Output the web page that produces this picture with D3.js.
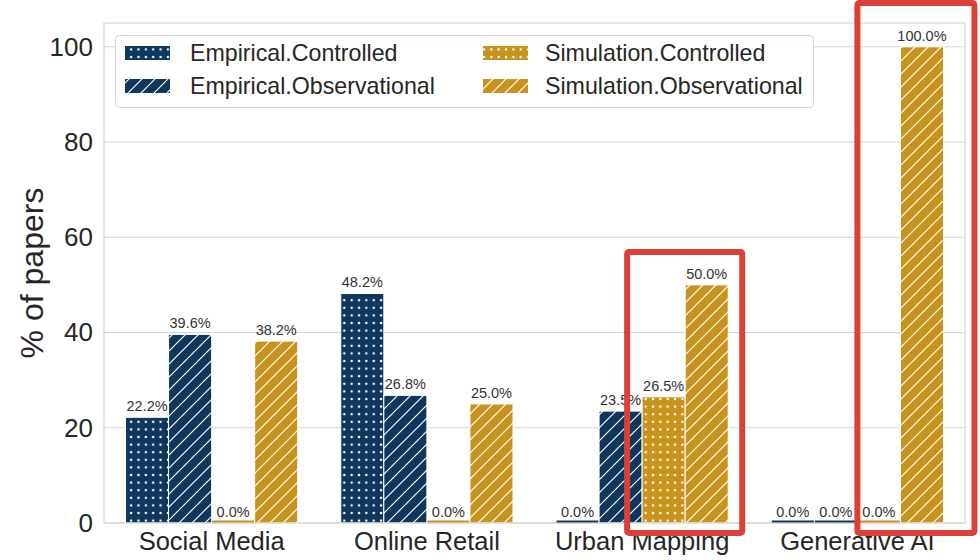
<!DOCTYPE html>
<html>
<head>
<meta charset="utf-8">
<script src="https://cdn.jsdelivr.net/npm/d3@7"></script>
<style>
  html, body { margin: 0; padding: 0; background: #fff; }
  svg { display: block; font-family: "Liberation Sans", Arial, Helvetica, sans-serif; }
</style>
</head>
<body>
<svg id="chart" width="980" height="560"></svg>
<script>
// ---- data ----
const categories = ["Social Media", "Online Retail", "Urban Mapping", "Generative AI"];
const seriesNames = ["Empirical.Controlled", "Empirical.Observational", "Simulation.Controlled", "Simulation.Observational"];
const empiricalControlled     = [22.2, 48.2, 0.0, 0.0];
const empiricalObservational  = [39.6, 26.8, 23.5, 0.0];
const simulationControlled    = [0.0, 0.0, 26.5, 0.0];
const simulationObservational = [38.2, 25.0, 50.0, 100.0];
const yTicks = [0, 20, 40, 60, 80, 100];
const highlightCategories = ["Urban Mapping", "Generative AI"];
const highlightSeries = ["Simulation.Controlled", "Simulation.Observational"];

const seriesValues = [empiricalControlled, empiricalObservational, simulationControlled, simulationObservational];
const seriesColor = ["#0e365f", "#0e365f", "#c8931d", "#c8931d"];
const seriesHatch = ["dots", "lines", "dots", "lines"];

// ---- layout ----
const W = 980, H = 560;
const m = { left: 104, right: 15, top: 23, bottom: 37 };
const svg = d3.select("#chart");

const x = d3.scaleBand().domain(categories).range([m.left, W - m.right]).paddingInner(0.2).paddingOuter(0.1);
const xs = d3.scaleBand().domain(seriesNames).range([0, x.bandwidth()]);
const y = d3.scaleLinear().domain([0, 105]).range([H - m.bottom, m.top]);

// ---- patterns ----
const defs = svg.append("defs");
function makePatterns(id, color) {
  const pd = defs.append("pattern").attr("id", "dots-" + id)
    .attr("patternUnits", "userSpaceOnUse").attr("width", 7.35).attr("height", 7.6)
    .attr("x", 2.5).attr("y", 0);
  pd.append("rect").attr("width", 7.35).attr("height", 7.6).attr("fill", color);
  pd.append("circle").attr("cx", 3.7).attr("cy", 3.8).attr("r", 1.25).attr("fill", "#fff");
  const s = 13;
  const pl = defs.append("pattern").attr("id", "lines-" + id)
    .attr("patternUnits", "userSpaceOnUse").attr("width", s).attr("height", s);
  pl.append("rect").attr("width", s).attr("height", s).attr("fill", color);
  pl.append("path")
    .attr("d", `M0,${s} L${s},0 M${-s/2},${s/2} L${s/2},${-s/2} M${s/2},${s*1.5} L${s*1.5},${s/2}`)
    .attr("stroke", "#fff").attr("stroke-width", 1.2);
}
makePatterns("navy", "#0e365f");
makePatterns("gold", "#c8931d");
function fillFor(i) {
  return `url(#${seriesHatch[i]}-${seriesColor[i] === "#0e365f" ? "navy" : "gold"})`;
}

// ---- grid ----
const gridColor = "#d6d6d6";
svg.append("g").selectAll("line").data(yTicks).join("line")
  .attr("x1", m.left).attr("x2", W - m.right)
  .attr("y1", d => y(d)).attr("y2", d => y(d))
  .attr("stroke", gridColor).attr("stroke-width", 1);

// ---- bars ----
const barsG = svg.append("g");
seriesNames.forEach((name, si) => {
  const data = categories.map((c, ci) => ({ c, v: seriesValues[si][ci] }));
  // baseline sliver (visible for zero bars)
  barsG.append("g").selectAll("line").data(data).join("line")
    .attr("x1", d => x(d.c) + xs(name) + 0.5)
    .attr("x2", d => x(d.c) + xs(name) + xs.bandwidth() - 0.5)
    .attr("y1", y(0) - 1.2).attr("y2", y(0) - 1.2)
    .attr("stroke", seriesColor[si]).attr("stroke-width", 2.6);
  barsG.append("g").selectAll("rect").data(data.filter(d => d.v > 0)).join("rect")
    .attr("x", d => x(d.c) + xs(name))
    .attr("width", xs.bandwidth())
    .attr("y", d => y(d.v))
    .attr("height", d => y(0) - y(d.v))
    .attr("fill", fillFor(si))
    .attr("stroke", "#fff").attr("stroke-width", 1);
  barsG.append("g").selectAll("text").data(data).join("text")
    .attr("x", d => x(d.c) + xs(name) + xs.bandwidth() / 2)
    .attr("y", d => y(d.v) - 6)
    .attr("text-anchor", "middle")
    .attr("font-size", 14.5)
    .attr("fill", "#333")
    .text(d => d.v.toFixed(1) + "%");
});

// frame
svg.append("rect").attr("x", m.left).attr("y", m.top)
  .attr("width", W - m.left - m.right).attr("height", H - m.top - m.bottom)
  .attr("fill", "none").attr("stroke", gridColor).attr("stroke-width", 1.2);

// ---- axes ----
const yAxis = svg.append("g").attr("transform", `translate(${m.left},0)`)
  .call(d3.axisLeft(y).tickValues(yTicks).tickSize(0).tickPadding(11));
yAxis.select(".domain").remove();
yAxis.selectAll("text").attr("font-size", 26).attr("fill", "#262626")
  .attr("font-family", "'Liberation Sans', Arial, sans-serif");

const xAxis = svg.append("g").attr("transform", `translate(0,${H - m.bottom})`)
  .call(d3.axisBottom(x).tickSize(0).tickPadding(9));
xAxis.select(".domain").remove();
xAxis.selectAll("text").attr("font-size", 25.5).attr("fill", "#262626")
  .attr("font-family", "'Liberation Sans', Arial, sans-serif");

svg.append("text")
  .attr("transform", `translate(43,${(m.top + H - m.bottom) / 2}) rotate(-90)`)
  .attr("text-anchor", "middle")
  .attr("font-size", 32).attr("fill", "#262626")
  .text("% of papers");

// ---- legend ----
const lg = svg.append("g");
lg.append("rect").attr("x", 115.5).attr("y", 35.5).attr("width", 698).attr("height", 72)
  .attr("rx", 4).attr("fill", "#fff").attr("fill-opacity", 0.85)
  .attr("stroke", "#d6d6d6").attr("stroke-width", 1);
const legendPos = [
  { px: 125, tx: 190, cy: 53 },
  { px: 125, tx: 190, cy: 86 },
  { px: 483, tx: 545, cy: 53 },
  { px: 483, tx: 545, cy: 86 }
];
seriesNames.forEach((name, i) => {
  const p = legendPos[i];
  lg.append("rect").attr("x", p.px).attr("y", p.cy - 7).attr("width", 45).attr("height", 14)
    .attr("fill", fillFor(i));
  lg.append("text").attr("x", p.tx).attr("y", p.cy).attr("dy", "0.35em")
    .attr("font-size", 23.2).attr("fill", "#262626").text(name);
});

// ---- highlight boxes (annotation overlay) ----
const boxStyle = [
  { padL: 15, padR: 14, padTop: 33 },
  { padL: 0, padR: 31, padTop: null }
];
const hl = svg.append("g");
highlightCategories.forEach((cat, i) => {
  const st = boxStyle[i];
  const x0 = x(cat) + xs(highlightSeries[0]);
  const x1 = x(cat) + xs(highlightSeries[highlightSeries.length - 1]) + xs.bandwidth();
  const maxV = d3.max(highlightSeries, s => seriesValues[seriesNames.indexOf(s)][categories.indexOf(cat)]);
  const yTop = st.padTop === null ? 3 : y(maxV) - st.padTop;
  const yBot = y(0) + 10;
  hl.append("rect")
    .attr("x", x0 - st.padL).attr("y", yTop)
    .attr("width", (x1 - x0) + st.padL + st.padR).attr("height", yBot - yTop)
    .attr("rx", 2)
    .attr("fill", "none").attr("stroke", "#dc3f37").attr("stroke-width", 6);
});
</script>
</body>
</html>
